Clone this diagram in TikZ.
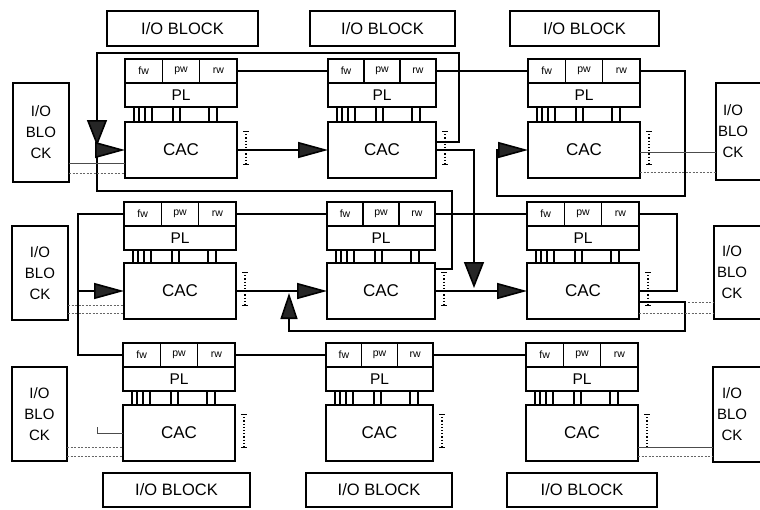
\documentclass[tikz,border=0pt]{standalone}
\usepackage{fontspec}
\setmainfont{Liberation Sans}
\usetikzlibrary{arrows.meta}
\newcommand\fwfont{\fontsize{10.5}{12}\selectfont}
\newcommand\plfont{\fontsize{15.5}{18}\selectfont}
\newcommand\cacfont{\fontsize{17}{19}\selectfont}
\newcommand\iofont{\fontsize{16.5}{18}\selectfont}
\newcommand\iosfont{\fontsize{15}{21}\selectfont}
\newcommand\mkcell[5]{%
 \pgfmathsetmacro\tw{#4/3}%
 \node[bx, minimum width=\tw pt, minimum height=24pt, font=\fwfont] (#1f) at (#2,#3) {fw};
 \node[bx, minimum width=\tw pt, minimum height=24pt, font=\fwfont] (#1p) at (#1f.north east) {pw};
 \node[bx, minimum width=\tw pt, minimum height=24pt, font=\fwfont] (#1r) at (#1p.north east) {rw};
 \node[bx, minimum width=#4pt, minimum height=24pt, font=\plfont] (#1PL) at (#1f.south west) {PL};
 \node[bx, minimum width=#4pt, minimum height=56pt, font=\cacfont] (#1C) at ([yshift=-#5pt]#1PL.south west) {CAC};
 \foreach \o in {9,14,20,27,48,55,84,92}
   \draw[line width=1.1pt] ([xshift=\o pt]#1PL.south west) -- ([xshift=\o pt]#1C.north west);
 \draw[dv] ([xshift=9pt,yshift=-9pt]#1C.north east) -- ([xshift=9pt,yshift=-42pt]#1C.north east);
 \draw[line width=0.5pt] ([xshift=6pt,yshift=-9pt]#1C.north east) -- ([xshift=12pt,yshift=-9pt]#1C.north east);
 \draw[line width=0.5pt] ([xshift=6pt,yshift=-42pt]#1C.north east) -- ([xshift=12pt,yshift=-42pt]#1C.north east);
}
\begin{document}
\begin{tikzpicture}[x=1pt,y=-1pt,
  bx/.style={draw, line width=1.4pt, inner sep=0pt, outer sep=0pt, anchor=north west},
  io/.style={draw, line width=1.4pt, inner sep=0pt, outer sep=0pt, font=\iofont},
  ios/.style={draw, line width=1.4pt, inner sep=0pt, outer sep=0pt, font=\iosfont, align=center},
  ln/.style={line width=1.6pt},
  thinln/.style={line width=0.6pt, black!70},
  dl/.style={line width=0.6pt, black!60, dash pattern=on 2pt off 1.5pt},
  dv/.style={line width=1.2pt, dotted},
  triR/.style={ln, -{Triangle[length=30pt,width=16pt,fill=black!85]}},
  triD/.style={ln, -{Triangle[length=26pt,width=20pt,fill=black!85]}},
]
\useasboundingbox (0,0) rectangle (760,509);
\clip (0,0) rectangle (760,509);

% I/O blocks
\node[io, minimum width=151pt, minimum height=35pt] (T1) at (182.5,28.5) {I/O BLOCK};
\node[io, minimum width=145pt, minimum height=35pt] (T2) at (382.5,28.5) {I/O BLOCK};
\node[io, minimum width=149pt, minimum height=35pt] (T3) at (584.5,28.5) {I/O BLOCK};
\node[io, minimum width=147pt, minimum height=34pt] (B1) at (176.5,490) {I/O BLOCK};
\node[io, minimum width=146pt, minimum height=34pt] (B2) at (379,490) {I/O BLOCK};
\node[io, minimum width=150pt, minimum height=34pt] (B3) at (582,490) {I/O BLOCK};
\node[ios, minimum width=56pt, minimum height=99pt] (L1) at (41,132.5) {I/O\\BLO\\CK};
\node[ios, minimum width=56pt, minimum height=94pt] (L2) at (40,273) {I/O\\BLO\\CK};
\node[ios, minimum width=55pt, minimum height=94pt] (L3) at (39.5,414) {I/O\\BLO\\CK};
\node[draw, line width=1.4pt, outer sep=0pt, minimum width=60pt, minimum height=97pt] (R1) at (746,131.5) {};
\node[draw, line width=1.4pt, outer sep=0pt, minimum width=62pt, minimum height=93pt] (R2) at (745,272.5) {};
\node[draw, line width=1.4pt, outer sep=0pt, minimum width=63pt, minimum height=95pt] (R3) at (744.5,414.5) {};
\node[font=\iosfont, align=center, inner sep=0pt] (R1t) at (733,131.5) {I/O\\BLO\\CK};
\node[font=\iosfont, align=center, inner sep=0pt] (R2t) at (732,272.5) {I/O\\BLO\\CK};
\node[font=\iosfont, align=center, inner sep=0pt] (R3t) at (732,414.5) {I/O\\BLO\\CK};

% cells
\mkcell{c11}{125}{59}{112}{15}
\mkcell{c12}{328}{59}{108}{15}
\mkcell{c13}{528}{59}{112}{15}
\mkcell{c21}{124}{202}{112}{13}
\mkcell{c22}{327}{202}{108}{13}
\mkcell{c23}{527}{202}{112}{13}
\mkcell{c31}{123}{343}{112}{14}
\mkcell{c32}{326}{343}{107}{14}
\mkcell{c33}{526}{343}{112}{14}

% rw -> fw chains
\draw[ln] (c11r.east) -- (c12f.west);
\draw[ln] (c12r.east) -- (c13f.west);
\draw[ln] (c21r.east) -- (c22f.west);
\draw[ln] (c22r.east) -- (c23f.west);
\draw[ln] (c31r.east) -- (c32f.west);
\draw[ln] (c32r.east) -- (c33f.west);
\draw[ln] (c21f.west) -- ++(-46,0) |- (c31f.west);
\draw[ln] (c23r.east) -| ([xshift=38pt]c23C.east) -- (c23C.east);

% CAC connections with arrows
\draw[triR] (c11C.east) -- (c12C.west);
\draw[triR] (c21C.east) -- (c22C.west);
\draw[triR] (c22C.east) -- (c23C.west);
\draw[triR] ([xshift=-46pt]c21C.west) -- (c21C.west);
\draw[triD] ([yshift=8pt]c12C.east) -| (459,53) -| (97,146);
\draw[triR] ([yshift=-6pt]c22C.north east) -| (452,191) -| (97,150) -- (c11C.west);
\draw[triD] (c12C.east) -| (474,288);
\draw[triR] (c13r.east) -| (685,196) -| (497,150) -- (c13C.west);
\draw[ln, -{Triangle[length=26pt,width=17pt,fill=black!85]}] ([yshift=-11pt]c23C.east) -| (685,331) -| (289,293);

% thin side lines
\coordinate (s1) at ([yshift=-13pt]c11C.west);
\coordinate (s2) at ([yshift=-23pt]c11C.west);
\coordinate (s3) at ([yshift=-14pt]c21C.west);
\coordinate (s4) at ([yshift=-22pt]c21C.west);
\coordinate (s5) at ([yshift=-14pt]c31C.west);
\coordinate (s6) at ([yshift=-23pt]c31C.west);
\coordinate (s7) at ([yshift=-2pt]c13C.east);
\coordinate (s8) at ([yshift=-22pt]c13C.east);
\coordinate (s9) at ([xshift=49pt,yshift=-11pt]c23C.east);
\coordinate (s10) at ([yshift=-22pt]c23C.east);
\coordinate (s11) at ([yshift=-14pt]c33C.east);
\coordinate (s12) at ([yshift=-23pt]c33C.east);
\coordinate (s13) at ([xshift=-26pt,yshift=6pt]c31C.west);
\draw[thinln] (s1 -| L1.east) -- (s1);
\draw[dl] (s2 -| L1.east) -- (s2);
\draw[dl] (s3 -| L2.east) -- (s3);
\draw[dl] (s4 -| L2.east) -- (s4);
\draw[thinln] (s13) |- (c31C.west);
\draw[dl] (s5 -| L3.east) -- (s5);
\draw[dl] (s6 -| L3.east) -- (s6);
\draw[thinln] (s7) -- (s7 -| R1.west);
\draw[dl] (s8) -- (s8 -| R1.west);
\draw[dl] (s9) -- (s9 -| R2.west);
\draw[dl] (s10) -- (s10 -| R2.west);
\draw[thinln] (s11) -- (s11 -| R3.west);
\draw[dl] (s12) -- (s12 -| R3.west);
\end{tikzpicture}
\end{document}
